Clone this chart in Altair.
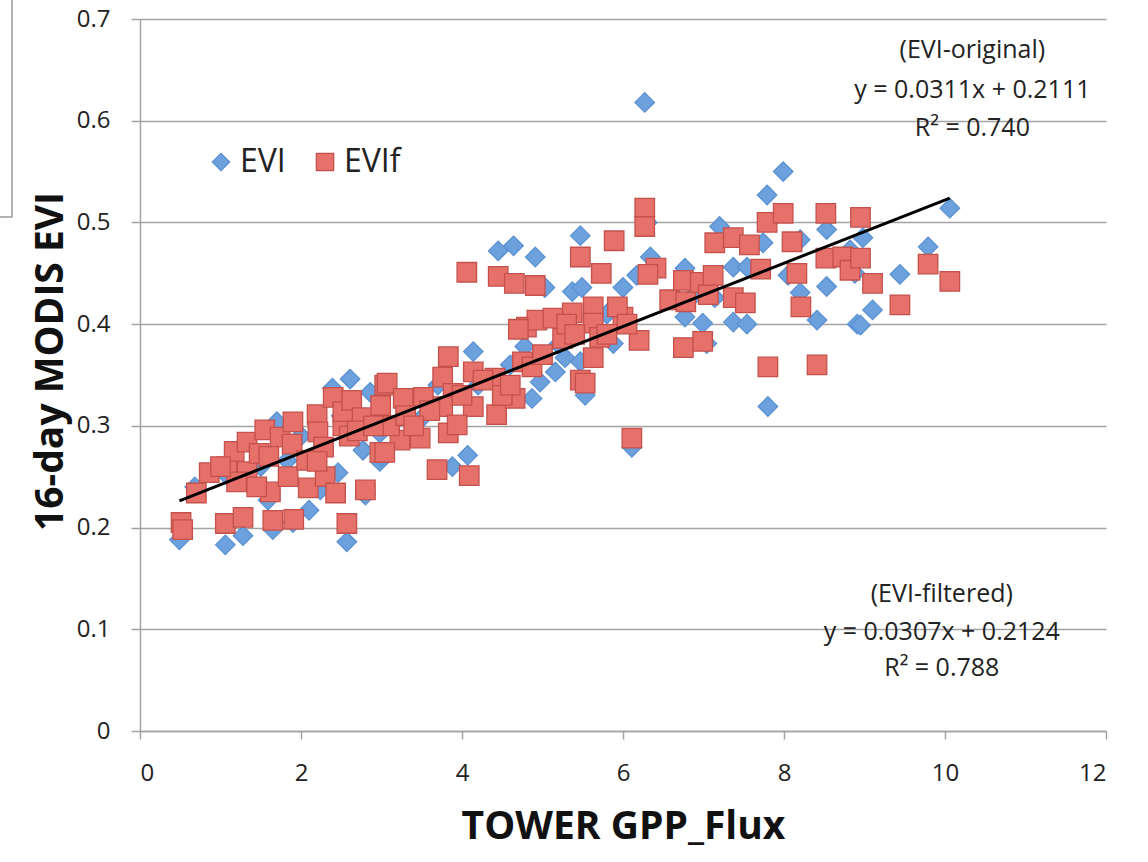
import altair as alt
import pandas as pd

# ---- data ----
evi_x = [0.49, 1.06, 1.28, 1.65, 1.90, 2.10, 2.57, 2.61, 2.39, 2.46, 2.80, 2.77, 2.98, 1.70, 1.83,
         2.24, 1.59, 0.68, 2.86, 2.98, 4.14, 4.07, 3.88, 4.87, 4.78, 4.97, 5.16, 5.28, 5.47, 5.53,
         3.48, 3.00, 5.88, 4.45, 4.64, 4.91, 5.47, 5.37, 5.49, 6.00, 6.17, 5.03, 7.79, 7.99, 7.20,
         7.74, 8.20, 8.53, 6.34, 6.77, 7.37, 7.54, 8.05, 8.53, 8.20, 6.99, 7.37, 7.54, 8.41, 8.91,
         7.80, 6.11, 7.04, 7.14, 6.77, 6.27, 10.06, 9.79, 9.44, 9.10, 8.95, 8.98, 8.82, 8.88,
         1.10, 1.50, 2.00, 2.50, 3.30, 3.70, 4.20, 4.60, 5.20, 5.80, 6.30, 6.90]
evi_y = [0.188, 0.183, 0.192, 0.198, 0.205, 0.217, 0.186, 0.346, 0.337, 0.254, 0.232, 0.276, 0.265, 0.304, 0.266,
         0.237, 0.227, 0.240, 0.333, 0.293, 0.373, 0.271, 0.260, 0.327, 0.378, 0.343, 0.353, 0.367, 0.363, 0.330,
         0.306, 0.270, 0.381, 0.472, 0.477, 0.466, 0.487, 0.432, 0.436, 0.436, 0.448, 0.436, 0.527, 0.550, 0.496,
         0.480, 0.483, 0.493, 0.466, 0.455, 0.456, 0.456, 0.448, 0.437, 0.431, 0.401, 0.402, 0.400, 0.404, 0.400,
         0.319, 0.279, 0.381, 0.426, 0.407, 0.618, 0.514, 0.476, 0.449, 0.414, 0.399, 0.485, 0.473, 0.450,
         0.250, 0.260, 0.290, 0.310, 0.320, 0.340, 0.340, 0.360, 0.380, 0.410, 0.500, 0.430]

evif_x = [0.51, 0.53, 0.70, 0.86, 1.06, 1.08, 1.28, 1.17, 1.33, 1.33, 1.48, 1.55, 1.62, 1.65, 1.74,
          1.90, 1.89, 1.84, 1.91, 2.09, 2.07, 2.20, 2.21, 2.28, 2.30, 2.40, 2.52, 2.52, 2.43, 2.57,
          2.63, 2.76, 2.80, 2.98, 2.99, 3.04, 3.83, 4.14, 3.76, 3.07, 3.27, 3.52, 3.89, 3.76, 4.14,
          4.43, 4.66, 4.41, 4.26, 3.48, 3.23, 3.83, 3.94, 3.04, 3.69, 4.09, 4.80, 4.93, 5.13, 5.37,
          5.63, 5.25, 5.63, 5.71, 4.75, 4.87, 5.63, 5.47, 5.53, 4.06, 4.45, 4.65, 4.91, 5.47, 5.89,
          5.73, 6.27, 6.27, 6.41, 6.31, 6.58, 6.75, 6.78, 6.96, 7.06, 7.12, 7.14, 7.37, 7.57, 7.79,
          7.99, 8.10, 7.71, 7.37, 7.52, 8.16, 8.21, 8.52, 8.52, 8.73, 8.82, 8.95, 6.20, 6.00, 5.93,
          6.75, 6.99, 7.80, 8.41, 6.11, 8.95, 9.10, 9.44, 9.79, 10.06,
          1.20, 1.45, 1.60, 2.60, 2.70, 3.10, 3.30, 3.60, 3.40, 2.90, 2.20, 1.00, 4.50, 4.60, 5.30,
          5.40, 5.80, 6.05, 4.70, 5.00, 4.00]
evif_y = [0.205, 0.198, 0.234, 0.254, 0.204, 0.260, 0.210, 0.275, 0.255, 0.284, 0.273, 0.296, 0.235, 0.207, 0.289,
          0.304, 0.282, 0.250, 0.208, 0.239, 0.266, 0.311, 0.294, 0.279, 0.250, 0.328, 0.300, 0.314, 0.234, 0.204,
          0.325, 0.308, 0.237, 0.274, 0.320, 0.340, 0.368, 0.353, 0.348, 0.342, 0.327, 0.328, 0.332, 0.319, 0.319,
          0.311, 0.327, 0.347, 0.345, 0.288, 0.286, 0.293, 0.301, 0.274, 0.257, 0.251, 0.397, 0.404, 0.406, 0.411,
          0.417, 0.386, 0.401, 0.387, 0.363, 0.358, 0.367, 0.345, 0.342, 0.451, 0.447, 0.440, 0.438, 0.466, 0.482,
          0.450, 0.514, 0.496, 0.455, 0.449, 0.424, 0.443, 0.422, 0.441, 0.429, 0.448, 0.480, 0.485, 0.478, 0.500,
          0.509, 0.481, 0.454, 0.426, 0.421, 0.450, 0.417, 0.509, 0.465, 0.466, 0.453, 0.505, 0.384, 0.407, 0.417,
          0.377, 0.383, 0.358, 0.360, 0.288, 0.465, 0.440, 0.419, 0.459, 0.442,
          0.245, 0.240, 0.270, 0.290, 0.295, 0.300, 0.310, 0.315, 0.300, 0.300, 0.265, 0.260, 0.330, 0.340, 0.400,
          0.390, 0.390, 0.400, 0.395, 0.370, 0.330]

series_names = ["EVI", "EVIf"]
orig_slope, orig_intercept = 0.0311, 0.2111

note_text = ["(EVI-original)", "y = 0.0311x + 0.2111", "R\u00b2 = 0.740",
             "(EVI-filtered)", "y = 0.0307x + 0.2124", "R\u00b2 = 0.788"]
note_x = [10.34, 10.34, 10.34, 9.96, 9.96, 9.96]
note_y = [0.670, 0.630, 0.593, 0.135, 0.097, 0.062]

# ---- tables ----
pts = pd.concat([
    pd.DataFrame({"x": evi_x, "y": evi_y, "series": series_names[0]}),
    pd.DataFrame({"x": evif_x, "y": evif_y, "series": series_names[1]}),
], ignore_index=True)

tx = [min(evi_x), max(evi_x)]
trend = pd.DataFrame({"x": tx, "y": [orig_slope * v + orig_intercept for v in tx]})
notes = pd.DataFrame({"text": note_text, "x": note_x, "y": note_y})

FONT = "Open Sans"
GRID = "#a3a3a3"

xscale = alt.Scale(domain=[0, 12], nice=False, zero=False)
yscale = alt.Scale(domain=[0, 0.7], nice=False)

legend = alt.Legend(title=None, orient="none", legendX=65, legendY=127, direction="horizontal",
                    labelFont=FONT, labelFontSize=32, labelColor="#222", symbolSize=300,
                    labelOffset=3, columnPadding=23, padding=0, symbolStrokeWidth=1.3)

points = alt.Chart(pts).mark_point(filled=True, opacity=1, strokeWidth=1.3, size=380).encode(
    x=alt.X("x:Q", scale=xscale, axis=alt.Axis(
        values=[0, 2, 4, 6, 8, 10, 12], format="~g", grid=False, title="TOWER GPP_Flux",
        domainColor=GRID, domainWidth=1.5, tickColor=GRID, tickWidth=1.5, tickSize=8,
        labelFont=FONT, labelFontSize=24, labelColor="#222", labelPadding=22,
        titleFont=FONT, titleFontSize=39, titleFontWeight="bold", titleColor="#111",
        titleBaseline="alphabetic", titleY=107)),
    y=alt.Y("y:Q", scale=yscale, axis=alt.Axis(
        values=[0, 0.1, 0.2, 0.3, 0.4, 0.5, 0.6, 0.7], format="~g", grid=True,
        gridColor=GRID, gridWidth=1.5, domainColor=GRID, domainWidth=1.5,
        tickColor=GRID, tickWidth=1.5, tickSize=9,
        labelFont=FONT, labelFontSize=24, labelColor="#222", labelPadding=21,
        title="16-day MODIS EVI", titleFont=FONT, titleFontSize=39, titleFontWeight="bold",
        titleColor="#111", titleAngle=270, titleBaseline="alphabetic", titleX=-78, titleY=342)),
    shape=alt.Shape("series:N", scale=alt.Scale(domain=series_names, range=["diamond", "square"]),
                    legend=legend),
    color=alt.Color("series:N", scale=alt.Scale(domain=series_names, range=["#6ca1de", "#e6706a"]),
                    legend=legend),
    stroke=alt.Stroke("series:N", scale=alt.Scale(domain=series_names, range=["#5b91d2", "#c4514c"]),
                      legend=legend),
)

line = alt.Chart(trend).mark_line(color="black", strokeWidth=3).encode(
    x=alt.X("x:Q", scale=xscale), y=alt.Y("y:Q", scale=yscale))

text = alt.Chart(notes).mark_text(font=FONT, fontSize=25, color="#222", align="center",
                                  baseline="middle").encode(
    x=alt.X("x:Q", scale=xscale), y=alt.Y("y:Q", scale=yscale), text="text:N")

frame_df = pd.DataFrame({"k": [0]})
frame_v = alt.Chart(frame_df).mark_rule(color="#999", strokeWidth=1.5).encode(
    x=alt.value(-128), y=alt.value(-19), y2=alt.value(198))
frame_h = alt.Chart(frame_df).mark_rule(color="#999", strokeWidth=1.5).encode(
    x=alt.value(-140), x2=alt.value(-127.5), y=alt.value(198))

chart = alt.layer(points, line, text, frame_v, frame_h).properties(
    width=966, height=712,
    autosize=alt.AutoSizeParams(type="none"),
    padding={"left": 140, "top": 19, "right": 42, "bottom": 131},
    background="white",
).configure_view(stroke=None)

chart.save("out.html", embed_options={"renderer": "svg", "actions": False})
